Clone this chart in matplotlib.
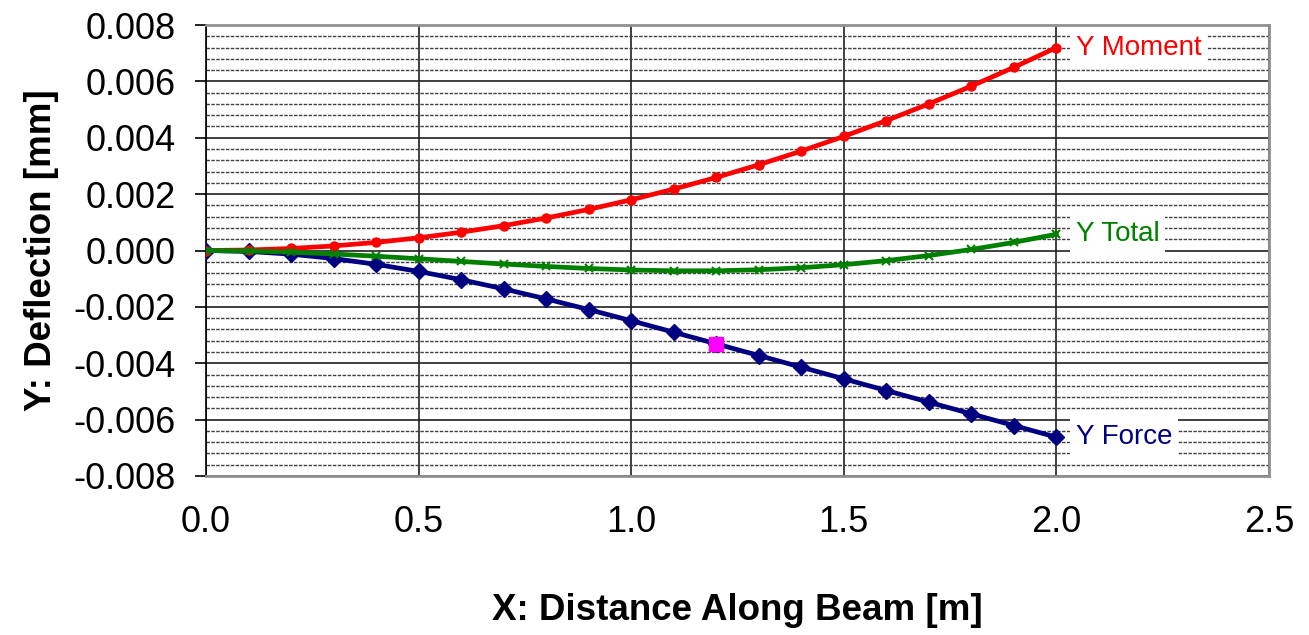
import matplotlib
matplotlib.use("Agg")
import matplotlib.pyplot as plt
from matplotlib.ticker import MultipleLocator, FormatStrFormatter

plt.rcParams["font.family"] = ["Liberation Sans", "DejaVu Sans"]

# distance along beam [m]
x = [0.0, 0.1, 0.2, 0.3, 0.4, 0.5, 0.6, 0.7, 0.8, 0.9, 1.0,
     1.1, 1.2, 1.3, 1.4, 1.5, 1.6, 1.7, 1.8, 1.9, 2.0]

y_moment = [0.0, 0.000018, 0.000072, 0.000162, 0.000288, 0.00045, 0.000648,
            0.000882, 0.001152, 0.001458, 0.0018, 0.002178, 0.002592,
            0.003042, 0.003528, 0.00405, 0.004608, 0.005202, 0.005832,
            0.006498, 0.0072]

y_force = [0.0, -0.000034, -0.00013, -0.000285, -0.00049, -0.000742,
           -0.001035, -0.001361, -0.001717, -0.002095, -0.002491,
           -0.002898, -0.003311, -0.003725, -0.004139, -0.004553,
           -0.004967, -0.005381, -0.005795, -0.006209, -0.006623]

y_total = [0.0, -0.000016, -0.000058, -0.000123, -0.000202, -0.000292,
           -0.000387, -0.000479, -0.000565, -0.000637, -0.000691,
           -0.00072, -0.000719, -0.000683, -0.000611, -0.000503,
           -0.000359, -0.000179, 0.000037, 0.000289, 0.000577]

# load point
load_x = [1.2]
load_y = [-0.003311]

fig = plt.figure(figsize=(13.09, 6.35), dpi=100)
ax = fig.add_axes([0.1574, 0.2504, 0.812, 0.7102])

ax.plot(x, y_force, color="#000080", lw=3.4, marker="D", ms=8.5, zorder=4)
ax.plot(x, y_moment, color="#ff0000", lw=3.4, marker="o", ms=6.5, zorder=5)
ax.plot(x, y_total, color="#008000", lw=3.4, marker="x", ms=6, mew=1.5, zorder=5)
ax.plot(load_x, load_y, ls="none", marker="s", ms=9.5, color="#ff00ff", zorder=6)

ax.set_xlim(0, 2.5)
ax.set_ylim(-0.008, 0.008)
ax.xaxis.set_major_locator(MultipleLocator(0.5))
ax.yaxis.set_major_locator(MultipleLocator(0.002))
ax.yaxis.set_minor_locator(MultipleLocator(0.0004))
ax.xaxis.set_major_formatter(FormatStrFormatter("%.1f"))
ax.yaxis.set_major_formatter(FormatStrFormatter("%.3f"))

ax.grid(which="major", axis="both", color="#202020", lw=1.2)
ax.grid(which="minor", axis="y", color="#404040", lw=1.0, ls=(0, (2.5, 1)))
ax.set_axisbelow(True)

for s in ["top", "right", "bottom"]:
    ax.spines[s].set_color("#909090")
    ax.spines[s].set_linewidth(2)
ax.spines["left"].set_color("black")
ax.spines["left"].set_linewidth(1.2)

ax.tick_params(axis="y", which="major", length=8, width=1.2, direction="out",
               labelsize=26, pad=14)
ax.tick_params(axis="y", which="minor", length=0)
ax.tick_params(axis="x", length=0, labelsize=26, pad=21)

ax.set_xlabel("X: Distance Along Beam [m]", fontsize=26.5, fontweight="bold",
              labelpad=38)
ax.set_ylabel("Y: Deflection [mm]", fontsize=26.5, fontweight="bold", labelpad=10)

box = dict(facecolor="white", edgecolor="none", pad=4)
ax.annotate("Y Moment", (x[-1], y_moment[-1]), xytext=(14, 0),
            textcoords="offset points", va="center", ha="left", fontsize=20,
            color="#ff0000", bbox=box, zorder=7)
ax.annotate("Y Total", (x[-1], y_total[-1]), xytext=(14, 0),
            textcoords="offset points", va="center", ha="left", fontsize=20,
            color="#008000", bbox=box, zorder=7)
ax.annotate("Y Force", (x[-1], y_force[-1]), xytext=(14, 0),
            textcoords="offset points", va="center", ha="left", fontsize=20,
            color="#000080", bbox=box, zorder=7)

fig.savefig("out.png", dpi=100)
